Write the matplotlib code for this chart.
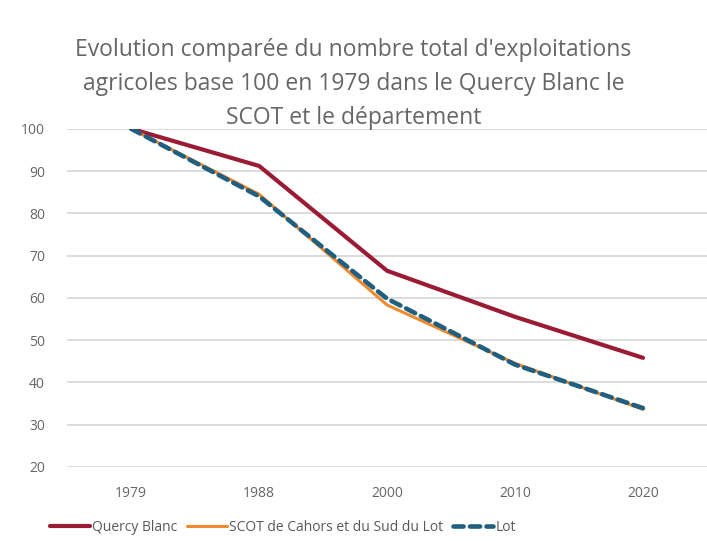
import matplotlib.pyplot as plt

years = ['1979', '1988', '2000', '2010', '2020']
quercy_blanc = [100, 91.2, 66.4, 55.5, 45.8]
scot = [100, 84.5, 58.3, 44.5, 33.6]
lot = [100, 84.0, 59.8, 44.2, 33.9]

plt.rcParams['font.family'] = ['Open Sans', 'DejaVu Sans']

fig = plt.figure(figsize=(7.07, 5.41), dpi=100)
ax = fig.add_axes([0.095, 0.137, 0.905, 0.625])

x = range(len(years))
ax.plot(x, quercy_blanc, color='#9B1B34', lw=3.0, label='Quercy Blanc', solid_capstyle='round')
ax.plot(x, scot, color='#F08A2C', lw=2.2, label='SCOT de Cahors et du Sud du Lot', solid_capstyle='round')
ax.plot(x, lot, color='#215F80', lw=3.3, ls=(0, (2.2, 1.4)), label='Lot', dash_capstyle='round')

ax.set_xlim(-0.5, 4.5)
ax.set_ylim(20, 100)
ax.set_yticks(range(20, 101, 10))
ax.set_xticks(list(x))
ax.set_xticklabels(years)
ax.yaxis.grid(True, color='#D9D9D9', lw=1.3)
ax.set_axisbelow(True)
for s in ax.spines.values():
    s.set_visible(False)
ax.tick_params(length=0, colors='#666666', labelsize=10)
ax.tick_params(axis='x', pad=14)
ax.tick_params(axis='y', pad=16)

fig.text(0.5, 0.93, "Evolution comparée du nombre total d'exploitations\n"
         "agricoles base 100 en 1979 dans le Quercy Blanc le\n"
         "SCOT et le département",
         ha='center', va='top', fontsize=16.5, color='#666666', linespacing=1.55)

fig.legend(loc='lower center', bbox_to_anchor=(0.40, -0.012), ncol=3, frameon=False,
           fontsize=10, labelcolor='#595959', handlelength=2.9, handletextpad=0.15,
           columnspacing=0.7)

fig.savefig('out.png', dpi=100)
